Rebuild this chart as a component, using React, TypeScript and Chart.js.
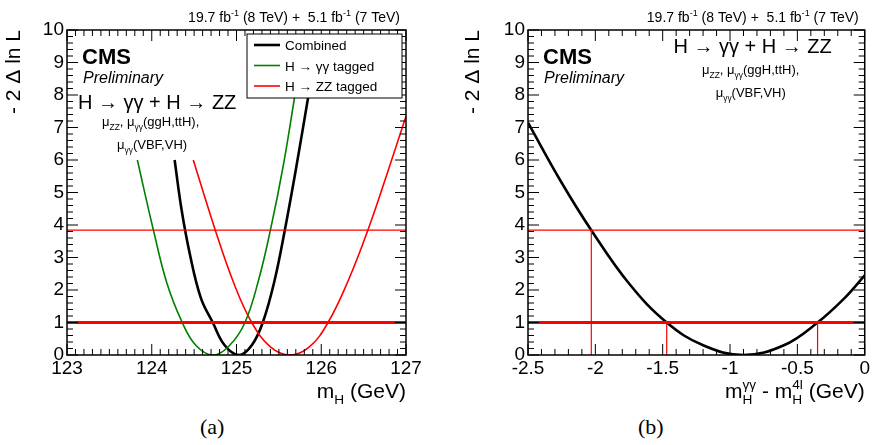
import { Chart, registerables } from "chart.js";
import { useEffect, useRef } from "react";

Chart.register(...registerables);

const combinedA = [[124.27, 6], [124.35, 4.5], [124.45, 3.1], [124.58, 1.75], [124.72, 1], [124.86, 0.3], [125.03, 0], [125.18, 0.3], [125.31, 1], [125.45, 2.3], [125.57, 3.84], [125.7, 5.7], [125.85, 8]];
const gammaA = [[123.83, 6], [124.02, 3.84], [124.18, 2.2], [124.36, 1], [124.52, 0.3], [124.72, 0], [124.92, 0.3], [125.1, 1], [125.26, 2.3], [125.4, 3.84], [125.55, 5.8], [125.69, 8]];
const zzA = [[124.49, 6], [124.75, 3.84], [124.97, 2.2], [125.18, 1], [125.4, 0.25], [125.63, 0], [125.86, 0.25], [126.08, 1], [126.32, 2.3], [126.55, 3.84], [126.78, 5.6], [127, 7.35]];
const diffB = [[-2.5, 7.15], [-2.25, 5.3], [-2.03, 3.84], [-1.75, 2.2], [-1.47, 1], [-1.2, 0.3], [-0.9, 0], [-0.6, 0.3], [-0.35, 1], [-0.15, 1.75], [0, 2.45]];
const crossB = [[-2.03, 3.84], [-1.47, 1], [-0.35, 1]];
const thresholds = [1, 3.84];
const yTicks = [0, 1, 2, 3, 4, 5, 6, 7, 8, 9, 10];
const legendLabels = ["Combined", "H \u2192 \u03b3\u03b3 tagged", "H \u2192 ZZ tagged"];
const lumiText = [["19.7 fb"], ["-1", "sup"], [" (8 TeV) +  5.1 fb"], ["-1", "sup"], [" (7 TeV)"]];

const FONT = "'Liberation Sans', Arial, sans-serif";

type Seg = string[];
function drawSegs(ctx: CanvasRenderingContext2D, segs: Seg[], x: number, y: number, size: number, align: "left" | "right" | "center", style = "") {
  const fontOf = (s: Seg) => `${style} ${s[1] ? size * 0.65 : size}px ${FONT}`;
  // widths, with a supsub pair taking the wider of the two
  const widths = segs.map((s) => { ctx.font = fontOf(s); return ctx.measureText(s[0]).width; });
  const adv = segs.map((s, i) => {
    if (s[1] === "supsub") return 0;
    if (i > 0 && segs[i - 1][1] === "supsub") return Math.max(widths[i], widths[i - 1]);
    return widths[i];
  });
  const w = adv.reduce((p, c) => p + c, 0);
  let cx = align === "left" ? x : align === "right" ? x - w : x - w / 2;
  ctx.textAlign = "left";
  ctx.textBaseline = "alphabetic";
  segs.forEach((s, i) => {
    ctx.font = fontOf(s);
    if (s[1] === "supsub") {
      ctx.fillText(s[0], cx, y - size * 0.45);
      return;
    }
    const dy = s[1] === "sup" ? -size * 0.4 : s[1] === "sub" ? size * 0.3 : 0;
    ctx.fillText(s[0], cx, y + dy);
    cx += adv[i];
  });
}

function makeChart(canvas: HTMLCanvasElement, panel: "a" | "b") {
  const xmin = panel === "a" ? 123 : -2.5;
  const xmax = panel === "a" ? 127 : 0;
  const xMajor = panel === "a" ? 1 : 0.5;
  const xMinor = 0.1;
  const line = (pts: number[][], color: string, width: number) => ({
    data: pts.map(([x, y]) => ({ x, y })),
    borderColor: color, borderWidth: width, pointRadius: 0, showLine: true,
    tension: 0.4, fill: false,
  });
  const datasets: any[] = [];
  datasets.push(line([[xmin, thresholds[0]], [xmax, thresholds[0]]], "#ff0000", 3));
  datasets.push(line([[xmin, thresholds[1]], [xmax, thresholds[1]]], "#ff0000", 1.3));
  if (panel === "a") {
    datasets.push(line(gammaA, "#008000", 1.6));
    datasets.push(line(zzA, "#ff0000", 1.6));
    datasets.push(line(combinedA, "#000000", 2.6));
  } else {
    crossB.forEach(([x, y]) => datasets.push(line([[x, 0], [x, y]], "#ff0000", 1.2)));
    datasets.push(line(diffB, "#000000", 2.6));
  }
  const yw = panel === "a" ? 67 : 92;

  const decor = {
    id: "decor",
    afterDraw(chart: any) {
      const ctx = chart.ctx as CanvasRenderingContext2D;
      const a = chart.chartArea;
      const xs = chart.scales.x, ys = chart.scales.y;
      ctx.save();
      ctx.strokeStyle = "#000";
      ctx.lineWidth = 1.5;
      ctx.strokeRect(a.left, a.top, a.right - a.left, a.bottom - a.top);
      ctx.lineWidth = 1;
      ctx.beginPath();
      for (let v = 0; v <= 10.001; v += 0.2) {
        const p = ys.getPixelForValue(v);
        const major = Math.abs(v - Math.round(v)) < 1e-6;
        const l = major ? 11 : 6;
        ctx.moveTo(a.left, p); ctx.lineTo(a.left + l, p);
        ctx.moveTo(a.right, p); ctx.lineTo(a.right - l, p);
      }
      for (let v = xmin; v <= xmax + 1e-6; v += xMinor) {
        const p = xs.getPixelForValue(v);
        const r = (v - xmin) / xMajor;
        const major = Math.abs(r - Math.round(r)) < 1e-6;
        const l = major ? 11 : 6;
        ctx.moveTo(p, a.bottom); ctx.lineTo(p, a.bottom - l);
        ctx.moveTo(p, a.top); ctx.lineTo(p, a.top + l);
      }
      ctx.stroke();
      ctx.fillStyle = "#000";
      ctx.save();
      ctx.translate(panel === "a" ? 20 : 43, a.top);
      ctx.rotate(-Math.PI / 2);
      drawSegs(ctx, [["- 2 \u0394 ln L"]], 0, 0, 21, "right");
      ctx.restore();
      if (panel === "a") {
        drawSegs(ctx, [["m"], ["H", "sub"], [" (GeV)"]], a.right, a.bottom + 43, 21, "right");
      } else {
        drawSegs(ctx, [["m"], ["\u03b3\u03b3", "supsub"], ["H", "sub"], [" - m"], ["4l", "supsub"], ["H", "sub"], [" (GeV)"]], a.right, a.bottom + 43, 21, "right");
      }
      drawSegs(ctx, lumiText, a.right - 6, 22, 14, "right");
      drawSegs(ctx, [["CMS"]], a.left + 15, a.top + 34, 22, "left", "bold");
      drawSegs(ctx, [["Preliminary"]], a.left + 16, a.top + 53, 16, "left", "italic");
      if (panel === "a") {
        drawSegs(ctx, [["H \u2192 \u03b3\u03b3 + H \u2192 ZZ"]], a.left + 11, a.top + 79, 20, "left");
        drawSegs(ctx, [["\u03bc"], ["ZZ", "sub"], [", \u03bc"], ["\u03b3\u03b3", "sub"], ["(ggH,ttH),"]], a.left + 35, a.top + 96, 13, "left");
        drawSegs(ctx, [["\u03bc"], ["\u03b3\u03b3", "sub"], ["(VBF,VH)"]], a.left + 50, a.top + 119, 13, "left");
        const lx = 247, ly = 34;
        ctx.fillStyle = "#fff";
        ctx.fillRect(lx, ly, 155, 64);
        ctx.lineWidth = 1;
        ctx.strokeStyle = "#000";
        ctx.strokeRect(lx, ly, 155, 64);
        const cols = ["#000", "#008000", "#ff0000"];
        const widths = [2.6, 1.6, 1.6];
        legendLabels.forEach((t, i) => {
          const yy = ly + 11 + i * 20.5;
          ctx.strokeStyle = cols[i];
          ctx.lineWidth = widths[i];
          ctx.beginPath(); ctx.moveTo(lx + 7, yy); ctx.lineTo(lx + 33, yy); ctx.stroke();
          ctx.fillStyle = "#000";
          drawSegs(ctx, [[t]], lx + 38, yy + 5, 13.5, "left");
        });
      } else {
        drawSegs(ctx, [["H \u2192 \u03b3\u03b3 + H \u2192 ZZ"]], a.right - 33, a.top + 23, 20, "right");
        drawSegs(ctx, [["\u03bc"], ["ZZ", "sub"], [", \u03bc"], ["\u03b3\u03b3", "sub"], ["(ggH,ttH),"]], a.right - 114, a.top + 44, 13, "center");
        drawSegs(ctx, [["\u03bc"], ["\u03b3\u03b3", "sub"], ["(VBF,VH)"]], a.right - 114, a.top + 67, 13, "center");
      }
      ctx.restore();
    },
  };

  return new Chart(canvas, {
    type: "scatter",
    data: { datasets },
    plugins: [decor],
    options: {
      animation: false,
      responsive: false,
      layout: { padding: { top: 30, right: panel === "a" ? 30 : 4, left: 0, bottom: 0 } },
      plugins: { legend: { display: false }, tooltip: { enabled: false } },
      scales: {
        x: {
          type: "linear", min: xmin, max: xmax,
          grid: { display: false, drawTicks: false },
          border: { display: false },
          afterBuildTicks: (s: any) => {
            const t = [];
            for (let v = xmin; v <= xmax + 1e-6; v += xMajor) t.push({ value: Math.round(v * 10) / 10 });
            s.ticks = t;
          },
          afterFit: (s: any) => { s.height = 55; },
          ticks: { color: "#000", font: { size: 19, family: FONT }, padding: 2, maxRotation: 0, autoSkip: false, callback: (v: any) => String(Number(v)) },
        },
        y: {
          min: 0, max: 10,
          grid: { display: false, drawTicks: false },
          border: { display: false },
          afterBuildTicks: (s: any) => { s.ticks = yTicks.map((v) => ({ value: v })); },
          afterFit: (s: any) => { s.width = yw; },
          ticks: { color: "#000", font: { size: 19, family: FONT }, padding: 3 },
        },
      },
    },
  });
}

function Panel({ panel, left }: { panel: "a" | "b"; left: number }) {
  const ref = useRef<HTMLCanvasElement>(null);
  useEffect(() => {
    if (!ref.current) return;
    const c = makeChart(ref.current, panel);
    return () => c.destroy();
  }, [panel]);
  return (
    <div style={{ position: "absolute", left, top: 0, width: 436, height: 445 }}>
      <canvas ref={ref} width={436} height={410} style={{ width: 436, height: 410, display: "block" }} />
      <div style={{ position: "absolute", top: 414, left: panel === "a" ? 200 : 202, fontFamily: "'Liberation Serif', serif", fontSize: 22 }}>
        ({panel})
      </div>
    </div>
  );
}

export default function App() {
  return (
    <div style={{ position: "fixed", left: 0, top: 0, width: 872, height: 445, background: "#fff" }}>
      <Panel panel="a" left={0} />
      <Panel panel="b" left={436} />
    </div>
  );
}
